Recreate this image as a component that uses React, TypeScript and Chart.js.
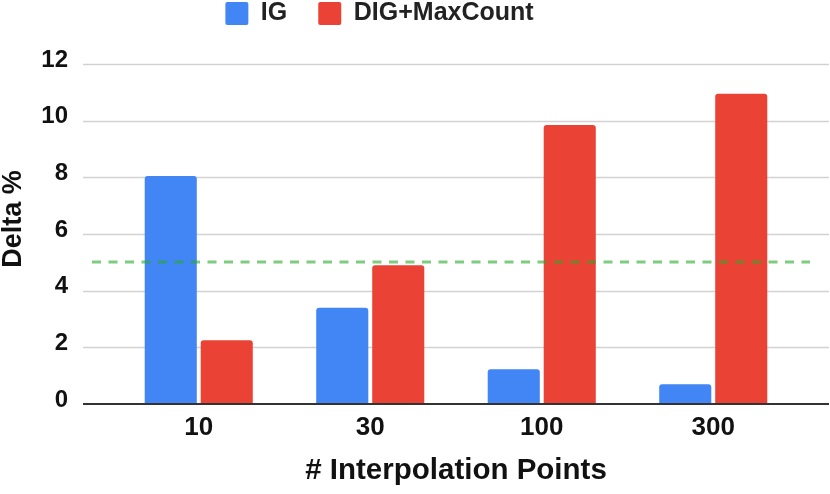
import React, { useEffect, useRef } from "react";
import { Chart, registerables } from "chart.js";

Chart.register(...registerables);

const categories = ["10", "30", "100", "300"];
const seriesNames = ["IG", "DIG+MaxCount"];
const igValues = [8.05, 3.4, 1.23, 0.7];
const digValues = [2.25, 4.9, 9.85, 10.95];
const yMin = 0;
const yMax = 12;
const yStep = 2;
const threshold = 5;
const xTitle = "# Interpolation Points";
const yTitle = "Delta %";

const FONT = "'Liberation Sans', Arial, Helvetica, sans-serif";
const BLUE = "#4285F4";
const RED = "#EA4335";

const gridPlugin = {
  id: "extendedGrid",
  beforeDatasetsDraw(chart: any) {
    const { ctx, chartArea, scales } = chart;
    const y = scales.y;
    ctx.save();
    y.ticks.forEach((t: any) => {
      if (t.value === 0) return;
      const py = Math.round(y.getPixelForValue(t.value)) + 0.5;
      ctx.beginPath();
      ctx.lineWidth = 1.5;
      ctx.strokeStyle = "#d2d2d2";
      ctx.moveTo(chartArea.left - 30, py);
      ctx.lineTo(chartArea.right + 30, py);
      ctx.stroke();
    });
    ctx.restore();
  },
  afterDatasetsDraw(chart: any) {
    const { ctx, chartArea, scales } = chart;
    const y = scales.y;
    ctx.save();
    // zero baseline
    const p0 = Math.round(y.getPixelForValue(0));
    ctx.beginPath();
    ctx.lineWidth = 2;
    ctx.strokeStyle = "#333333";
    ctx.moveTo(chartArea.left - 30, p0);
    ctx.lineTo(chartArea.right + 30, p0);
    ctx.stroke();
    // threshold dashed line
    const pt = Math.round(y.getPixelForValue(threshold));
    ctx.beginPath();
    ctx.lineWidth = 3;
    ctx.setLineDash([9, 7.5]);
    ctx.strokeStyle = "rgba(40,170,40,0.6)";
    ctx.moveTo(chartArea.left - 21, pt);
    ctx.lineTo(chartArea.right + 11, pt);
    ctx.stroke();
    ctx.restore();
  },
  afterDraw(chart: any) {
    // vertical axis title, placed slightly above the plot centre as in the reference
    const { ctx, chartArea } = chart;
    const cy = (chartArea.top + chartArea.bottom) / 2 - 15;
    ctx.save();
    ctx.translate(13.6, cy);
    ctx.rotate(-Math.PI / 2);
    ctx.font = `bold 27px ${FONT}`;
    ctx.fillStyle = "#111111";
    ctx.textAlign = "center";
    ctx.textBaseline = "middle";
    ctx.fillText(yTitle, 0, 0);
    ctx.restore();
  },
};

const legendShift = {
  id: "legendShift",
  afterLayout(chart: any) {
    const lg = chart.legend;
    if (!lg) return;
    lg.left -= 20;
    lg.right -= 20;
    lg.top -= 30;
    lg.bottom -= 30;
  },
};

export default function App() {
  const ref = useRef<HTMLCanvasElement>(null);

  useEffect(() => {
    const canvas = ref.current;
    if (!canvas) return;
    const chart = new Chart(canvas, {
      type: "bar",
      data: {
        labels: categories,
        datasets: [
          {
            label: seriesNames[0],
            data: igValues,
            backgroundColor: BLUE,
            borderWidth: 0,
            borderRadius: 3,
            categoryPercentage: 0.653,
            barPercentage: 0.93,
          },
          {
            label: seriesNames[1],
            data: digValues,
            backgroundColor: RED,
            borderWidth: 0,
            borderRadius: 3,
            categoryPercentage: 0.653,
            barPercentage: 0.93,
          },
        ],
      },
      options: {
        responsive: false,
        animation: false,
        devicePixelRatio: 1,
        layout: { padding: { top: 0, right: 31, bottom: 0, left: 0 } },
        plugins: {
          tooltip: { enabled: false },
          legend: {
            display: true,
            position: "top",
            align: "center",
            maxHeight: 64,
            labels: {
              boxWidth: 23,
              boxHeight: 23,
              padding: 31,
              useBorderRadius: true,
              borderRadius: 2,
              color: "#222222",
              font: { family: FONT, size: 25, weight: "bold" },
            },
          },
        },
        scales: {
          x: {
            grid: { display: false, drawTicks: false },
            border: { display: false },
            ticks: {
              color: "#111111",
              padding: 8,
              font: { family: FONT, size: 26, weight: "bold" },
            },
            title: {
              display: true,
              text: xTitle,
              color: "#111111",
              padding: { top: 0, bottom: 5 },
              font: { family: FONT, size: 29.5, weight: "bold", lineHeight: 1.2 },
            },
            afterFit(scale: any) {
              scale.height = 90;
            },
          },
          y: {
            min: yMin,
            max: yMax,
            grid: { display: false, drawTicks: false },
            border: { display: false },
            ticks: {
              stepSize: yStep,
              color: "#111111",
              padding: 45,
              labelOffset: -4,
              font: { family: FONT, size: 24, weight: "bold" },
            },
            title: { display: false, text: yTitle },
            afterFit(scale: any) {
              scale.width = 113;
            },
          },
        },
      },
      plugins: [gridPlugin, legendShift],
    } as any);
    return () => chart.destroy();
  }, []);

  return (
    <div style={{ position: "absolute", left: 0, top: 0, width: 830, height: 494 }}>
      <canvas ref={ref} width={830} height={494} style={{ display: "block" }} />
    </div>
  );
}
